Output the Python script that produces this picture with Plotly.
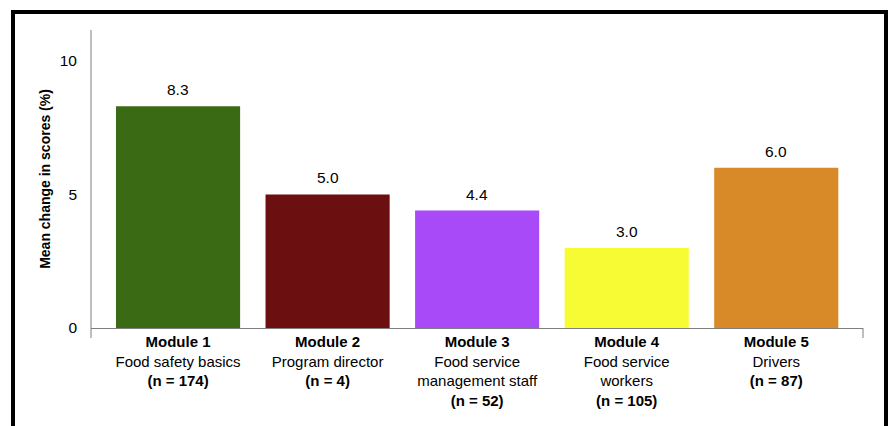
import plotly.graph_objects as go

# Mean change in scores per training module
modules = ["Module 1", "Module 2", "Module 3", "Module 4", "Module 5"]
audiences = ["Food safety basics", "Program director", "Food service<br>management staff",
             "Food service<br>workers", "Drivers"]
sample_sizes = [174, 4, 52, 105, 87]
mean_change = [8.3, 5.0, 4.4, 3.0, 6.0]
bar_colors = ["#3A6A14", "#6B0F10", "#A84AF8", "#F7FB34", "#D98A28"]

tick_labels = [f"<b>{m}</b><br>{a}<br><b>(n = {n})</b>"
               for m, a, n in zip(modules, audiences, sample_sizes)]

W, H = 892, 426
ML, MR, MT, MB = 91, 29, 30, 98
PW, PH = W - ML - MR, H - MT - MB
FONT = "Liberation Sans, Arial, sans-serif"

fig = go.Figure(go.Bar(
    x=modules,
    y=mean_change,
    marker=dict(color=bar_colors, line=dict(width=0)),
    width=0.83,
    hoverinfo="skip",
))

# value labels above the bars
for m, v in zip(modules, mean_change):
    fig.add_annotation(x=m, y=v, text=f"{v:.1f}", showarrow=False,
                       yanchor="bottom", yshift=6,
                       font=dict(family=FONT, size=15.5, color="black"))

def px_x(p):
    return (p - ML) / PW

def px_y(p):
    return (H - MB - p) / PH

# frame around the figure
fig.add_shape(type="rect", xref="paper", yref="paper",
              x0=px_x(13), x1=px_x(886), y0=px_y(460), y1=px_y(12),
              line=dict(color="black", width=4), layer="above")
# y axis extending below the baseline, and tick at the right end of the x axis
fig.add_shape(type="line", xref="paper", yref="paper",
              x0=0, x1=0, y0=px_y(338), y1=1,
              line=dict(color="#7f7f7f", width=1))
fig.add_shape(type="line", xref="paper", yref="paper",
              x0=1, x1=1, y0=px_y(338), y1=0,
              line=dict(color="#7f7f7f", width=1))

fig.update_layout(
    width=W, height=H,
    margin=dict(l=ML, r=MR, t=MT, b=MB),
    paper_bgcolor="white", plot_bgcolor="white",
    font=dict(family=FONT, size=15, color="black"),
    showlegend=False,
    xaxis=dict(
        tickmode="array", tickvals=modules, ticktext=tick_labels,
        range=[-0.582, 4.58], showline=True, linecolor="#7f7f7f", linewidth=1,
        ticks="", showgrid=False, zeroline=False, fixedrange=True,
        tickfont=dict(family=FONT, size=15, color="black"),
    ),
    yaxis=dict(
        range=[0, 11.16], tickvals=[0, 5, 10], ticks="",
        showline=False, showgrid=False, zeroline=False,
        ticklabelstandoff=13,
        tickfont=dict(family=FONT, size=15.5, color="black"),
        title=dict(text="<b>Mean change in scores (%)</b>", standoff=5,
                   font=dict(family=FONT, size=14, color="black")),
    ),
)

fig.write_html("out.html")
